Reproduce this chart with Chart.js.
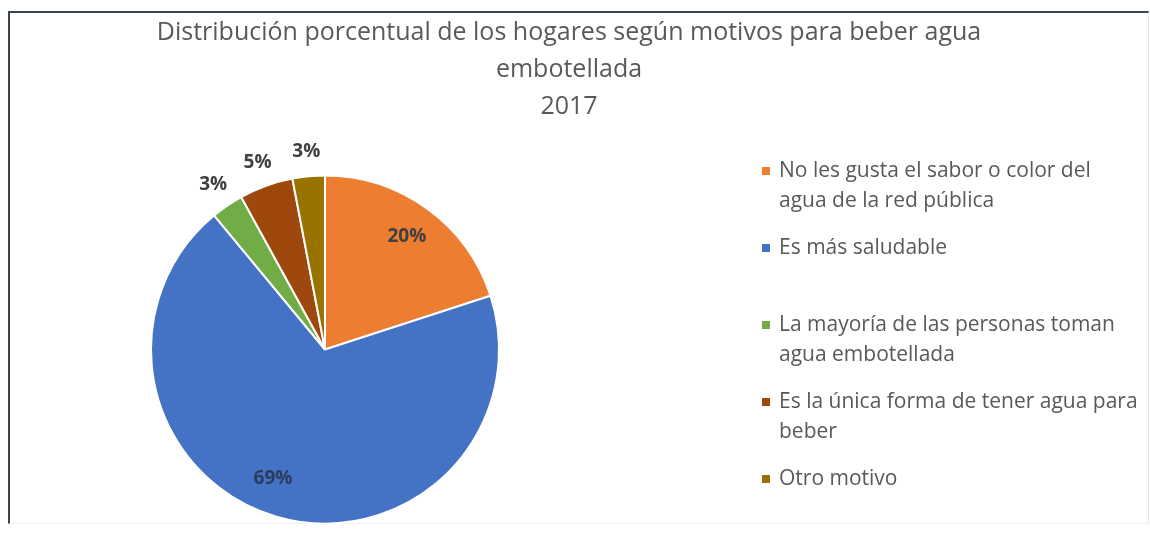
<!DOCTYPE html>
<html>
<head>
<meta charset="utf-8">
<script src="https://cdn.jsdelivr.net/npm/chart.js@4/dist/chart.umd.min.js"></script>
<style>
  html, body { margin: 0; padding: 0; background: #fff; }
  #wrap { position: relative; width: 1150px; height: 533px; overflow: hidden; }
  #frame {
    position: absolute; left: 8px; top: 11px; width: 1138px; height: 510px;
    border-top: 2px solid #3a4552; border-left: 2px solid #3a4552;
    border-right: 1px solid #e4e6ea; border-bottom: 1px solid #eef0f2;
  }
  #motivos { position: absolute; left: 0; top: 0; }
</style>
</head>
<body>
<div id="wrap">
  <div id="frame"></div>
  <canvas id="motivos" width="1150" height="533"></canvas>
</div>
<script>
// categorias y porcentajes
const motivos = [
  ['No les gusta el sabor o color del', 'agua de la red pública'],
  ['Es más saludable'],
  ['La mayoría de las personas toman', 'agua embotellada'],
  ['Es la única forma de tener agua para', 'beber'],
  ['Otro motivo']
];
const porcentajes = [20, 69, 3, 5, 3];
const colores = ['#ED7D31', '#4472C4', '#70AD47', '#9E480E', '#997300'];
const titulo = [
  'Distribución porcentual de los hogares según motivos para beber agua',
  'embotellada',
  '2017'
];

const FONT = '"Open Sans", "Noto Sans", sans-serif';
const GRIS = '#595959';

// titulo centrado arriba
const titlePlugin = {
  id: 'tituloHogares',
  afterDraw(chart) {
    const ctx = chart.ctx;
    ctx.save();
    ctx.fillStyle = GRIS;
    ctx.font = '25px ' + FONT;
    ctx.textAlign = 'center';
    ctx.textBaseline = 'middle';
    titulo.forEach((t, i) => ctx.fillText(t, 569, 33 + i * 37));
    ctx.restore();
  }
};

// leyenda a la derecha con texto en dos lineas
const legendPlugin = {
  id: 'leyendaHogares',
  afterDraw(chart) {
    const ctx = chart.ctx;
    ctx.save();
    ctx.font = '21px ' + FONT;
    ctx.textBaseline = 'middle';
    ctx.textAlign = 'left';
    motivos.forEach((lines, i) => {
      const y = 171 + i * 77;
      ctx.fillStyle = colores[i];
      ctx.fillRect(762, y - 4, 8, 8);
      ctx.fillStyle = GRIS;
      lines.forEach((l, j) => ctx.fillText(l, 779, y + j * 30));
    });
    ctx.restore();
  }
};

// etiquetas de porcentaje: dentro si la porcion es grande, fuera si es chica
const labelPlugin = {
  id: 'etiquetasPct',
  afterDatasetsDraw(chart) {
    const ctx = chart.ctx;
    const meta = chart.getDatasetMeta(0);
    ctx.save();
    ctx.font = 'bold 19px ' + FONT;
    ctx.textAlign = 'center';
    ctx.textBaseline = 'middle';
    meta.data.forEach((arc, i) => {
      const p = arc.getProps(['x', 'y', 'startAngle', 'endAngle', 'outerRadius'], true);
      const big = porcentajes[i] >= 10;
      // la etiqueta grande del 69% queda un poco desplazada hacia la izquierda
      const mid = (p.startAngle + p.endAngle) / 2 + (porcentajes[i] > 50 ? 0.1 : 0);
      const r = big ? p.outerRadius * 0.8 : p.outerRadius + 25;
      ctx.fillStyle = porcentajes[i] > 50 ? '#2a3c5e' : '#404040';
      ctx.fillText(porcentajes[i] + '%', p.x + Math.cos(mid) * r, p.y + Math.sin(mid) * r);
    });
    ctx.restore();
  }
};

const ctx = document.getElementById('motivos').getContext('2d');
const chart = new Chart(ctx, {
  type: 'pie',
  data: {
    labels: motivos.map(m => m.join(' ')),
    datasets: [{
      data: porcentajes,
      backgroundColor: colores,
      borderColor: '#ffffff',
      borderWidth: 2,
      hoverOffset: 0
    }]
  },
  options: {
    responsive: false,
    animation: false,
    layout: { padding: { left: 150, right: 650, top: 173, bottom: 7 } },
    plugins: {
      legend: { display: false },
      title: { display: false },
      tooltip: { enabled: false }
    }
  },
  plugins: [titlePlugin, legendPlugin, labelPlugin]
});
</script>
</body>
</html>
